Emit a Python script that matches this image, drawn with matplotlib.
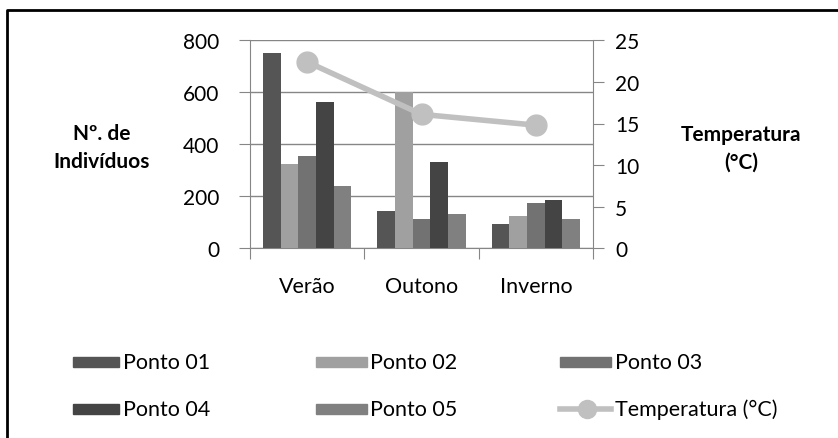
import matplotlib
matplotlib.use("Agg")
import matplotlib.pyplot as plt
import numpy as np
from matplotlib.patches import Rectangle
from matplotlib.lines import Line2D

categories = ["Verão", "Outono", "Inverno"]
series_names = ["Ponto 01", "Ponto 02", "Ponto 03", "Ponto 04", "Ponto 05"]
ponto01 = [752, 143, 93]
ponto02 = [325, 600, 123]
ponto03 = [356, 113, 173]
ponto04 = [564, 331, 187]
ponto05 = [238, 133, 113]
temperatura = [22.4, 16.1, 14.8]
left_ticks = [0, 200, 400, 600, 800]
right_ticks = [0, 5, 10, 15, 20, 25]

colors = ["#555555", "#a0a0a0", "#727272", "#444444", "#808080"]
line_color = "#c0c0c0"
axis_gray = "#868686"

plt.rcParams['font.family'] = ['Lato', 'DejaVu Sans']

fig = plt.figure(figsize=(8.38, 4.39), dpi=100)
ax = fig.add_axes([250/838, 1-249.3/439, (593-250)/838, (249.3-41.3)/439])
ax2 = ax.twinx()

x = np.arange(len(categories))
bw = 0.154
data = [ponto01, ponto02, ponto03, ponto04, ponto05]
for i, (vals, c) in enumerate(zip(data, colors)):
    ax.bar(x + (i - 2) * bw, vals, width=bw, color=c, zorder=3)

ax.set_xlim(-0.5, 2.5)
ax.set_ylim(0, 800)
ax.set_yticks(left_ticks)
ax.grid(axis='y', color=axis_gray, linewidth=1, zorder=0)
ax.set_axisbelow(True)
ax.set_xticks([-0.5, 0.5, 1.5, 2.5])
ax.set_xticks(x, minor=True)
ax.set_xticklabels([])
ax.set_xticklabels(categories, minor=True)
ax.tick_params(axis='x', which='major', length=8, color=axis_gray, direction='out')
ax.tick_params(axis='x', which='minor', length=0, pad=20, labelsize=15.5)
ax.tick_params(axis='y', length=8, color=axis_gray, labelsize=15, pad=14)
for s in ['top', 'right']:
    ax.spines[s].set_visible(False)
ax.spines['left'].set_color(axis_gray)
ax.spines['bottom'].set_color(axis_gray)

ax2.plot(x, temperatura, color=line_color, linewidth=4, marker='o',
         markersize=15, zorder=5, solid_capstyle='round')
ax2.set_ylim(0, 25)
ax2.set_yticks(right_ticks)
ax2.tick_params(axis='y', length=8, color=axis_gray, labelsize=15, pad=8)
for s in ['top', 'left', 'bottom']:
    ax2.spines[s].set_visible(False)
ax2.spines['right'].set_color(axis_gray)

fig.text(102/838, 1-148/439, "Nº. de\nIndivíduos", ha='center', va='center',
         fontsize=15, fontweight='bold', linespacing=1.5)
fig.text(741/838, 1-149/439, "Temperatura\n(°C)", ha='center', va='center',
         fontsize=15, fontweight='bold', linespacing=1.5)

# legend drawn manually
rows_y = [363, 410]
cols = [(73, 119, 123), (316, 367, 370), (560, 611, 615)]
order = [(0, 0, 0), (1, 0, 1), (2, 0, 2), (3, 1, 0), (4, 1, 1)]
for si, r, c in order:
    x0, x1, tx = cols[c]
    y = rows_y[r]
    fig.patches.append(Rectangle((x0/838, 1-(y+5)/439), (x1-x0)/838, 10/439,
                                 transform=fig.transFigure, color=colors[si]))
    fig.text(tx/838, 1-y/439, series_names[si], ha='left', va='center', fontsize=15.5)
x0, x1, tx = cols[2]
y = rows_y[1]
fig.lines.append(Line2D([x0/838, x1/838], [1-y/439, 1-y/439], transform=fig.transFigure,
                        color=line_color, linewidth=4))
fig.lines.append(Line2D([587/838], [1-y/439], transform=fig.transFigure,
                        color=line_color, marker='o', markersize=13, linestyle='none'))
fig.text(tx/838, 1-y/439, "Temperatura (°C)", ha='left', va='center', fontsize=15.5)

# frame
fig.lines.append(Line2D([7/838, 7/838, 1.0], [0.0, 1-11/439, 1-11/439],
                        transform=fig.transFigure, color='black', linewidth=2))

fig.savefig("out.png", dpi=100)
